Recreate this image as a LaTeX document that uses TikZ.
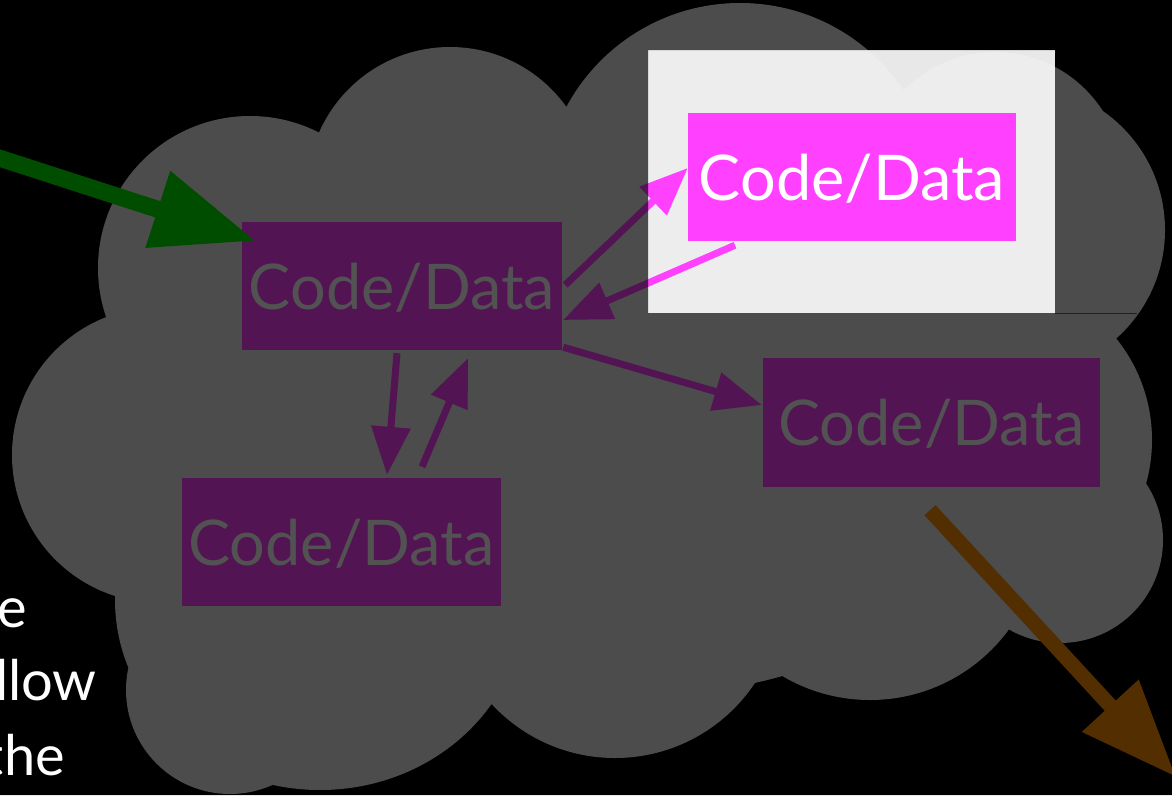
\documentclass[tikz,border=0pt]{standalone}
\usepackage{fontspec}
\setmainfont{Lato}
\usetikzlibrary{arrows.meta}
\definecolor{hot}{HTML}{FF40FF}
\definecolor{cloudgray}{HTML}{EDEDED}
\definecolor{ingreen}{HTML}{00F000}
\definecolor{outorange}{HTML}{FF9000}
\tikzset{
  codebox/.style={fill=hot,text=white,inner sep=0pt,minimum height=128pt,text depth=0pt},
  link/.style={hot,line width=7pt,-{Triangle[length=48pt,width=38pt]}},
  cuttext/.style={white,inner sep=0pt,anchor=base east,font=\fontsize{56}{60}\selectfont},
}
\begin{document}
\begin{tikzpicture}[x=1pt,y=-1pt,font=\fontsize{63}{70}\selectfont]
\fill[black] (0,0) rectangle (1172,795);
\useasboundingbox (0,0) rectangle (1172,795);
\fill[cloudgray!98!black] (648,50) rectangle (1055,313);
\fill[cloudgray] (250,268) circle (152pt) (450,190) circle (143pt) (740,200) circle (197pt)
  (995,180) circle (128pt) (1020,230) circle (145pt) (990,440) circle (162pt)
  (1060,540) circle (103pt) (870,528) circle (172pt) (615,590) circle (168pt)
  (320,600) ellipse (205pt and 190pt) (230,690) circle (104pt)
  (160,455) circle (148pt) (600,420) ellipse (450pt and 280pt);
\draw[black!60,line width=1.2pt] (1055,313.5) -- (1137,313.5);

\node[codebox,minimum width=320pt] (src) at (402,286) {Code/Data};
\node[codebox,minimum width=328pt] (hot) at (852,177) {Code/Data};
\node[codebox,minimum width=337pt,minimum height=129pt] (east) at (931.5,422.5) {Code/Data};
\node[codebox,minimum width=319pt] (low) at (341.5,542) {Code/Data};

\draw[link] ([xshift=-5pt,yshift=-3pt]src.south) -- ([xshift=45.5pt,yshift=3pt]low.north);
\draw[link] ([xshift=80.5pt,yshift=11pt]low.north) -- ([xshift=66pt,yshift=-8pt]src.south);
\draw[link] ([xshift=3pt,yshift=1pt]src.east) -- ([yshift=9pt]hot.west);
\draw[link] ([xshift=-117pt,yshift=-4pt]hot.south) -- ([xshift=1pt,yshift=-34pt]src.east);
\draw[link] ([xshift=1pt,yshift=3pt]src.south east) -- ([xshift=-1pt,yshift=17.5pt]east.west);

\coordinate (feed) at (-4,157);
\coordinate (sink) at (1176,777);
\draw[ingreen,line width=17pt,-{Triangle[length=103pt,width=76pt]}] (feed) -- ([xshift=14pt,yshift=45pt]src.west);
\draw[outorange,line width=15pt,-{Triangle[length=97pt,width=73pt]}] ([xshift=-1.5pt,yshift=-23pt]east.south) -- (sink);

\fill[black,opacity=0.68,even odd rule] (0,0) rectangle (1172,795) (648,50) rectangle (1055,313);

\node[cuttext] (l1) at (27,627) {e};
\node[cuttext] (l2) at (97,700) {llow};
\node[cuttext] (l3) at (65,775) {the};
\end{tikzpicture}
\end{document}
